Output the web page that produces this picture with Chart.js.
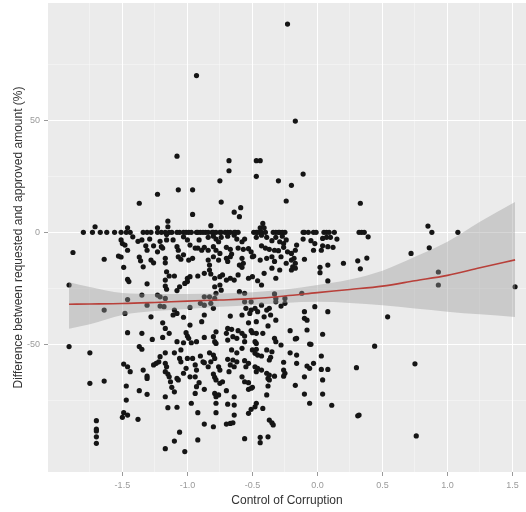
<!DOCTYPE html>
<html>
<head>
<meta charset="utf-8">
<script src="https://cdn.jsdelivr.net/npm/chart.js@4"></script>
<style>
  html, body { margin: 0; padding: 0; background: #fff; }
  #wrap { width: 526px; height: 512px; }
</style>
</head>
<body>
<div id="wrap"><canvas id="chart" width="526" height="512"></canvas></div>
<script>
// grid positions (major + minor) and axis limits
const xGrid = [-1.75, -1.5, -1.25, -1.0, -0.75, -0.5, -0.25, 0, 0.25, 0.5, 0.75, 1.0, 1.25, 1.5];
const yGrid = [-75, -50, -25, 0, 25, 50, 75];

// loess fit with its confidence band
const smoothX    = [-1.91, -1.75, -1.5, -1.25, -1.0, -0.75, -0.5, -0.25, 0, 0.25, 0.5, 0.75, 1.0, 1.25, 1.52];
const smoothFit  = [-32.1, -32.0, -31.8, -31.3, -30.7, -30.2, -29.6, -28.4, -26.9, -25.5, -24.0, -21.6, -19.2, -15.8, -12.3];
const smoothHigh = [-22.3, -24.4, -27.1, -27.5, -27.5, -27.3, -26.7, -25.5, -23.5, -21.0, -17.1, -10.9, -4.2, 4.7, 13.6];
const smoothLow  = [-43.0, -41.0, -36.9, -35.1, -34.2, -33.2, -32.4, -31.5, -31.0, -31.5, -32.6, -34.0, -35.4, -36.6, -37.8];

// projects at exactly 0 % difference
const zeroRowX = [
  -1.80, -1.73, -1.67, -1.62, -1.56, -1.51, -1.47, -1.44, -1.34, -1.31, -1.28, -1.23, -1.20, -1.17, -1.14,
  -1.12, -1.08, -1.06, -1.03, -1.01, -0.99, -0.97, -0.93, -0.92, -0.90, -0.88, -0.86, -0.84, -0.81, -0.80,
  -0.78, -0.75, -0.74, -0.71, -0.69, -0.67, -0.64, -0.63, -0.61, -0.49, -0.47, -0.46, -0.44, -0.43, -0.40,
  -0.34, -0.32, -0.30, -0.29, -0.27, -0.25, -0.11, -0.10, -0.07, -0.03, -0.01, 0.05, 0.07, 0.09, 0.13,
  0.32, 0.34, 0.36, 0.88, 1.08
];

// control of corruption vs. difference between requested and approved amount (%)
const otherPoints = [
  [-0.23,93],[-0.93,70],[-0.17,49.7],
  [-1.08,34],[-1.07,19],[-0.96,19],[-1.23,17],[-1.37,13],[-0.96,8],[-1.15,5],[-1.71,2.5],
  [-1.46,2],[-1.23,2],[-1.15,2.5],
  [-0.68,32],[-0.47,32],[-0.44,32],[-0.68,27.5],[-0.47,25],[-0.75,23],[-0.30,23],[-0.11,26],
  [-0.20,21],[-0.74,13.5],[-0.24,14],[-0.64,9],[-0.59,11],[-0.60,7],[-0.42,4],[-0.82,3],
  [-0.44,2],[-0.41,2],[0.33,13],[0.85,2.8],
  [-1.88,-9],[-1.64,-12],[-1.51,-3.4],[-1.50,-5],[-1.48,-5.7],[-1.42,-2],[-1.38,-4],[-1.35,-3.4],
  [-1.32,-6],[-1.29,-3],[-1.26,-6],[-1.21,-4],[-1.20,-6.4],[-1.19,-7],[-1.16,-1],[-1.16,-3.4],
  [-1.11,-3.4],[-1.08,-6.4],[-1.07,-8],[-1.03,-2],[-1.00,-3.4],[-0.98,-5.7],[-0.94,-7],[-1.46,-8],
  [-1.31,-8],[-1.23,-8.7],[-1.53,-10.6],[-1.51,-11],[-1.37,-11],[-1.36,-12.7],[-1.28,-12.4],
  [-1.26,-13.6],[-1.17,-11.6],[-1.17,-13.6],[-1.07,-10.9],[-1.05,-12],[-1.03,-10],[-0.99,-12.4],
  [-0.96,-11.6],[-1.49,-15.6],[-1.34,-15.4],[-1.16,-17.6],[-1.14,-19.5],[-1.10,-19.5],[-1.00,-20.5],
  [-0.98,-19.8],[-1.46,-21],[-1.45,-22],[-1.17,-21.3],[-1.17,-24],[-1.16,-25.4],[-1.31,-23],
  [-1.02,-22.8],[-1.00,-22],[-1.06,-24.3],[-1.91,-23.5],[-1.08,-26],[-1.35,-28],[-1.23,-28],
  [-1.21,-28.8],[-1.17,-29.5],[-1.46,-30],
  [-0.91,-3.4],[-0.84,-2.2],[-0.80,-1.7],[-0.78,-3],[-0.76,-4.2],[-0.74,-2.2],[-0.69,-1.7],
  [-0.64,-1.3],[-0.62,-3],[-0.58,-4.2],[-0.56,-3],[-0.47,-2.2],[-0.43,-1.3],[-0.39,-2.2],
  [-0.35,-3.7],[-0.32,-2.2],[-0.29,-4.2],[-0.27,-1.7],[-0.24,-3.4],[-0.11,-3],[-0.05,-3.7],
  [-0.02,-5],[0.04,-2.7],[0.07,-2.2],[0.10,-2.2],[0.15,-3],
  [-0.92,-7],[-0.89,-8],[-0.87,-6.7],[-0.84,-8],[-0.80,-6.4],[-0.78,-8],[-0.75,-9.4],[-0.70,-6.7],
  [-0.67,-7.6],[-0.66,-9.7],[-0.61,-7],[-0.57,-7.6],[-0.53,-7.3],[-0.51,-8.7],[-0.49,-10.6],
  [-0.43,-6],[-0.40,-7],[-0.37,-7.6],[-0.33,-8],[-0.30,-8.2],[-0.26,-5],[-0.26,-6.7],[-0.23,-8.7],
  [-0.20,-9.4],[-0.17,-8],[-0.16,-5.7],[-0.03,-8],[0.03,-8],[0.04,-6],[0.08,-6.4],[0.12,-6.7],
  [-0.84,-12.4],[-0.83,-14.6],[-0.80,-10.9],[-0.76,-12.4],[-0.70,-11.6],[-0.69,-13],[-0.67,-10.9],
  [-0.58,-11.6],[-0.57,-13.8],[-0.60,-14.6],[-0.50,-10.9],[-0.44,-12.4],[-0.39,-11.6],[-0.35,-10.9],
  [-0.33,-13],[-0.28,-10.9],[-0.24,-13.8],[-0.20,-12.4],[-0.17,-13.8],[-0.18,-11.6],[-0.10,-12],
  [0.02,-15.6],[0.08,-14.6],[0.02,-18],[0.20,-13.8],
  [-0.92,-19.5],[-0.87,-18.3],[-0.83,-16.8],[-0.82,-18.6],[-0.79,-20.5],[-0.75,-19.8],[-0.73,-19],
  [-0.70,-21.3],[-0.67,-20.5],[-0.64,-21.3],[-0.61,-19],[-0.58,-15.6],[-0.53,-20.5],[-0.50,-19.8],
  [-0.46,-21.6],[-0.43,-23.5],[-0.41,-18.3],[-0.35,-16],[-0.32,-20.5],[-0.29,-16.8],[-0.19,-15.4],
  [-0.20,-16.8],[-0.17,-16],[0.08,-21.7],
  [-0.79,-24.3],[-0.75,-23.5],[-0.74,-25.8],[-0.78,-27.2],[-0.60,-26.5],[-0.56,-27.2],[-0.33,-27.5],
  [-0.32,-29.5],[-0.25,-29.5],[-0.12,-27.2],[-0.87,-28.8],[-0.83,-28.8],[-0.79,-29.5],[-0.56,-31],
  [-0.51,-31],
  [-1.64,-34.7],[-1.48,-36.2],[-1.28,-37.7],[-1.31,-32.5],[-1.21,-32.9],[-1.18,-33.2],[-1.10,-34.7],
  [-1.08,-36.2],[-1.11,-36.9],[-1.03,-37.9],[-0.98,-33.5],[-1.19,-40.4],[-1.17,-42.9],[-0.98,-41.4],
  [-1.46,-44.8],[-1.35,-45.1],[-1.14,-45.1],[-1.01,-44.8],[-1.00,-46.3],[-0.99,-47.3],[-1.27,-47.8],
  [-1.19,-46.9],[-1.08,-48.8],[-1.03,-49.3],[-0.97,-49.3],[-0.93,-48.8],[-1.91,-51],[-1.37,-51],
  [-1.35,-52.2],[-1.05,-52.5],[-1.75,-53.8],[-1.10,-53.8],[-1.17,-53.8],[-1.21,-55.5],[-1.22,-57.8],
  [-1.24,-58.5],[-1.26,-59.2],[-1.06,-56.3],[-1.05,-57.8],[-1.00,-56.3],[-0.96,-56.3],[-0.94,-59.2],
  [-0.93,-61.5],[-1.17,-58.5],[-1.16,-60],[-1.17,-62.2],[-1.15,-63.3],[-1.49,-58.8],[-1.46,-60],
  [-1.44,-62.2],[-1.34,-61.5],[-1.31,-64.2],[-1.31,-65.2],[-1.14,-64.5],[-1.13,-66.7],[-1.08,-65.2],
  [-1.07,-65.9],[-1.03,-62.9],[-1.01,-60.7],[-0.98,-64.5],[-0.94,-64.5],[-1.75,-67.4],[-1.64,-66.4],
  [-1.47,-68.6],[-1.12,-69.2],[-1.10,-71.2],[-1.37,-70.7],[-1.31,-72.3],[-1.17,-73.4],[-0.93,-68.9],
  [-0.94,-71.9],[-1.47,-74.9],[-0.97,-76.3],[-1.15,-78.3],[-1.08,-78.1],[-0.92,-80.5],[-1.49,-80.5],
  [-1.50,-82.6],[-1.46,-81.6],[-1.38,-83.5],[-1.70,-84.1],[-1.70,-87.9],[-1.70,-88.7],[-1.70,-91.3],
  [-1.70,-94.2],[-1.06,-89.2],[-1.10,-93.2],[-0.92,-92.7],[-1.17,-96.6],[-1.02,-97.9],
  [-0.90,-31.7],[-0.87,-32.5],[-0.82,-31.7],[-0.80,-33.9],[-0.55,-33.9],[-0.51,-34.7],[-0.48,-33.9],
  [-0.46,-35.4],[-0.43,-32.5],[-0.39,-34.7],[-0.37,-33.9],[-0.32,-31],[-0.28,-32.9],[-0.25,-31.7],
  [-0.02,-33.2],[-0.10,-35.4],[-0.10,-38.4],[-0.08,-39.2],[0.08,-35.4],[-0.87,-36.9],[-0.89,-39.9],
  [-0.67,-37.4],[-0.58,-36.9],[-0.52,-36.2],[-0.41,-37.7],[-0.36,-36.9],[-0.32,-39.2],[-0.53,-40.4],
  [-0.47,-39.9],[-0.69,-42.9],[-0.66,-43.3],[-0.61,-43.9],[-0.58,-45.1],[-0.78,-44.4],[-0.80,-46.6],
  [-0.79,-48.8],[-0.78,-49.6],[-0.51,-43.9],[-0.50,-44.8],[-0.47,-45.1],[-0.42,-45.1],[-0.38,-41.8],
  [-0.21,-43.9],[-0.08,-43.6],[0.04,-45.5],[-0.70,-45.1],[-0.69,-48.1],[-0.65,-46.6],[-0.62,-47.3],
  [-0.56,-46.3],[-0.56,-48.8],[-0.33,-47.3],[-0.32,-48.8],[-0.28,-50.3],[-0.16,-47.3],[-0.17,-47.6],
  [-0.87,-46.9],[-0.48,-48.8],[-0.47,-49.6],[-0.06,-49.9],[-0.05,-50],
  [-0.66,-52.5],[-0.62,-53.8],[-0.58,-51.8],[-0.50,-52.5],[-0.48,-54],[-0.46,-54.8],[-0.43,-55.2],
  [-0.47,-52.2],[-0.39,-52.5],[-0.35,-53.3],[-0.83,-53.8],[-0.80,-54.8],[-0.79,-56.3],[-0.82,-57.8],
  [-0.90,-55.2],[-0.88,-57.8],[-0.69,-56.7],[-0.65,-57],[-0.62,-57.8],[-0.67,-59.2],[-0.64,-60],
  [-0.56,-57.3],[-0.53,-58.5],[-0.55,-60],[-0.36,-55.8],[-0.37,-57],[-0.21,-53.8],[-0.16,-54.8],
  [-0.26,-58],[-0.16,-58.5],[0.03,-55.2],[-0.08,-59.7],[-0.06,-60.7],[-0.03,-58.5],[0.03,-61.2],
  [0.08,-61.2],[-0.87,-58.2],[-0.84,-60],[-0.76,-60],[-0.75,-61.5],[-0.48,-60],[-0.46,-60.7],
  [-0.43,-61.5],[-0.47,-62.2],[-0.39,-62.9],[-0.37,-63.7],[-0.38,-65.2],[-0.37,-65.9],[-0.26,-61.5],
  [-0.25,-62.9],[-0.26,-64.2],[-0.33,-64.2],[-0.91,-67.1],[-0.80,-63.3],[-0.79,-64.7],[-0.78,-65.9],
  [-0.75,-67.4],[-0.73,-66.7],[-0.68,-62.2],[-0.58,-64.5],[-0.56,-66.7],[-0.53,-67.1],[-0.10,-64.5],
  [0.04,-65.9],[-0.87,-70.1],[-0.79,-71.9],[-0.78,-73.4],[-0.76,-72.6],[-0.70,-70.7],[-0.53,-70.1],
  [-0.51,-69.6],[-0.50,-69.2],[-0.38,-68.6],[-0.17,-68.3],[-0.10,-72.2],[0.04,-72.2],[-0.64,-73.4],
  [-0.39,-72.6],[-0.06,-76.3],[0.11,-77.2],[-0.78,-76.3],[-0.69,-76.7],[-0.64,-77.1],[-0.47,-76.3],
  [-0.48,-77.9],[-0.51,-79],[-0.53,-80.8],[-0.42,-78.6],[-0.78,-80.5],[-0.64,-81.6],[-0.37,-83.8],
  [-0.35,-85],[-0.34,-86],[-0.87,-85.6],[-0.80,-86.8],[-0.70,-85.6],[-0.67,-85.3],[-0.65,-85],
  [-0.56,-92.1],[-0.44,-91.5],[-0.44,-93.9],[-0.38,-91.3],
  [0.39,-2],[0.31,-12.7],[0.33,-16.3],[0.38,-11.5],[0.72,-9.4],[0.86,-6.9],[0.93,-17.7],[0.93,-23.5],
  [1.52,-24.3],[0.54,-37.7],[0.44,-50.8],[0.30,-60.4],[0.75,-58.7],[0.31,-81.9],[0.32,-81.6],
  [0.76,-90.9]
];

const scatterData = zeroRowX.map(x => ({ x: x, y: 0 }))
  .concat(otherPoints.map(p => ({ x: p[0], y: p[1] })));
const toXY = ys => smoothX.map((x, i) => ({ x: x, y: ys[i] }));

const isMajorX = v => Math.abs(v * 2 - Math.round(v * 2)) < 1e-6;
const isMajorY = v => Math.abs(v % 50) < 1e-6;
const tickFont = { family: '"Liberation Sans", Arial, sans-serif', size: 9 };
const titleFont = { family: '"Liberation Sans", Arial, sans-serif', size: 12 };

// no label overhang padding, so the panel fills the fixed box
const noOverhang = axis => {
  axis.paddingTop = 0;
  axis.paddingBottom = 0;
  axis.paddingLeft = 0;
  axis.paddingRight = 0;
};

const panelBg = {
  id: 'panelBg',
  beforeDraw(chart) {
    const { ctx, chartArea: a } = chart;
    ctx.save();
    ctx.fillStyle = '#EBEBEB';
    ctx.fillRect(a.left, a.top, a.right - a.left, a.bottom - a.top);
    ctx.restore();
  }
};

new Chart(document.getElementById('chart'), {
  type: 'scatter',
  data: {
    datasets: [
      {
        label: 'loess',
        data: toXY(smoothFit),
        showLine: true,
        borderColor: '#b8403a',
        borderWidth: 1.6,
        pointRadius: 0,
        cubicInterpolationMode: 'monotone',
        fill: false
      },
      {
        label: 'upper',
        data: toXY(smoothHigh),
        showLine: true,
        borderWidth: 0,
        pointRadius: 0,
        cubicInterpolationMode: 'monotone',
        backgroundColor: 'rgba(153,153,153,0.4)',
        fill: '+1'
      },
      {
        label: 'lower',
        data: toXY(smoothLow),
        showLine: true,
        borderWidth: 0,
        pointRadius: 0,
        cubicInterpolationMode: 'monotone',
        fill: false
      },
      {
        label: 'projects',
        data: scatterData,
        pointRadius: 2.6,
        pointBorderWidth: 0,
        pointBackgroundColor: '#151515',
        pointBorderColor: '#151515'
      }
    ]
  },
  options: {
    responsive: false,
    devicePixelRatio: 1,
    animation: false,
    layout: { autoPadding: false, padding: { top: 3, right: 0, left: 0, bottom: 0 } },
    plugins: { legend: { display: false }, tooltip: { enabled: false } },
    scales: {
      x: {
        type: 'linear',
        min: -2.072,
        max: 1.604,
        afterBuildTicks: axis => { axis.ticks = xGrid.map(v => ({ value: v })); },
        afterFit: axis => { axis.height = 40; noOverhang(axis); },
        border: { display: false },
        grid: {
          color: c => isMajorX(c.tick.value) ? '#ffffff' : 'rgba(255,255,255,0.7)',
          lineWidth: c => isMajorX(c.tick.value) ? 1 : 0.5,
          tickColor: c => isMajorX(c.tick.value) ? '#9a9a9a' : 'rgba(0,0,0,0)',
          tickLength: 4
        },
        ticks: {
          autoSkip: false,
          maxRotation: 0,
          padding: 4,
          color: '#9a9a9a',
          font: tickFont,
          callback: v => isMajorX(v) ? v.toFixed(1) : ''
        },
        title: {
          display: true,
          text: 'Control of Corruption',
          color: '#333333',
          font: titleFont,
          padding: { top: 0, bottom: 4 }
        }
      },
      y: {
        type: 'linear',
        min: -107,
        max: 102.4,
        afterBuildTicks: axis => { axis.ticks = yGrid.map(v => ({ value: v })); },
        afterFit: axis => { axis.width = 48; noOverhang(axis); },
        border: { display: false },
        grid: {
          color: c => isMajorY(c.tick.value) ? '#ffffff' : 'rgba(255,255,255,0.7)',
          lineWidth: c => isMajorY(c.tick.value) ? 1 : 0.5,
          tickColor: c => isMajorY(c.tick.value) ? '#9a9a9a' : 'rgba(0,0,0,0)',
          tickLength: 4
        },
        ticks: {
          autoSkip: false,
          padding: 4,
          color: '#9a9a9a',
          font: tickFont,
          callback: v => isMajorY(v) ? String(v) : ''
        },
        title: {
          display: true,
          text: 'Difference between requested and approved amount (%)',
          color: '#333333',
          font: titleFont,
          padding: { top: 11, bottom: 0 }
        }
      }
    }
  },
  plugins: [panelBg]
});
</script>
</body>
</html>
